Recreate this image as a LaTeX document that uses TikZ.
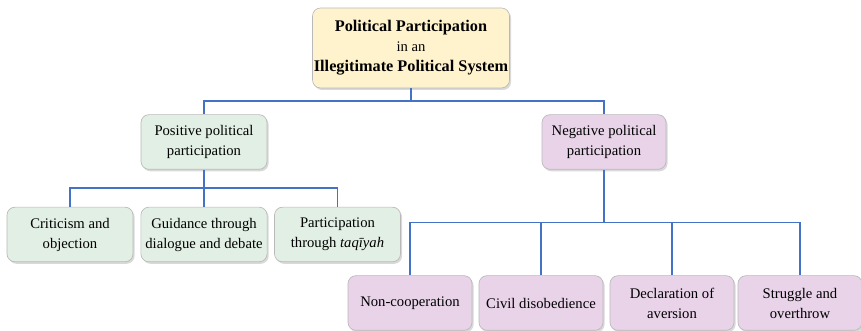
\documentclass[tikz,border=0pt]{standalone}
\usepackage{fontspec}
\setmainfont{Liberation Serif}
\newfontfamily\boxfont{Liberation Serif}
\usetikzlibrary{shadows}

\definecolor{topfill}{HTML}{FFF3CE}
\definecolor{posfill}{HTML}{E2EFE4}
\definecolor{negfill}{HTML}{E8D3E8}
\definecolor{linkblue}{HTML}{4472C4}

\newcommand{\bigbold}[1]{{\fontsize{12.2}{15.5}\selectfont\bfseries #1}}

\tikzset{
  box/.style={draw=gray!55, line width=0.5pt, rounded corners=6pt, align=center,
    font=\boxfont\fontsize{11}{15}\selectfont,
    drop shadow={opacity=0.3, shadow xshift=1.2pt, shadow yshift=-1.5pt}},
  topbox/.style={box, fill=topfill, inner xsep=1pt, minimum width=147pt, minimum height=60pt},
  posbox/.style={box, fill=posfill, minimum width=94.5pt, minimum height=41pt},
  negbox/.style={box, fill=negfill, minimum width=93pt, minimum height=41pt},
  link/.style={draw=linkblue, line width=1.3pt}
}

\begin{document}
\begin{tikzpicture}[x=0.75pt, y=-0.75pt]
      \useasboundingbox (0,0) rectangle (861,331);

      % Boxes (top)
      \node[topbox] (top) at (411,48)
      {\bigbold{Political Participation}\\in an\\\bigbold{Illegitimate Political System}};

      % Boxes (middle)
      \node[posbox] (pos) at (204,142) {Positive political\\participation};
      \node[negbox] (neg) at (604,142) {Negative political\\participation};

      % Boxes (positive)
      \node[posbox] (crit) at (70,234.5) {Criticism and\\objection};
      \node[posbox] (guid) at (204,234.5) {Guidance through\\dialogue and debate};
      \node[posbox] (taqi) at (337.5,234.5) {Participation\\through \textit{taqīyah}};

      % Boxes (negative)
      \node[negbox] (nonc) at (410,303) {Non-cooperation};
      \node[negbox] (civil) at (541,303) {Civil disobedience};
      \node[negbox] (decl) at (672,303) {Declaration of\\aversion};
      \node[negbox] (strug) at (800,303) {Struggle and\\overthrow};

      % Links
      \path (top.south) -- (pos.north) coordinate[midway] (jtop);
      \draw[link] (top.south) -- (top.south |- jtop) -| (pos.north);
      \draw[link] (top.south |- jtop) -| (neg.north);

      \path (pos.south) -- (crit.north) coordinate[midway] (jpos);
      \draw[link] (pos.south) -- (guid.north);
      \draw[link] (pos.south |- jpos) -| (crit.north);
      \draw[link] (pos.south |- jpos) -| (taqi.north);

      \path (neg.south) -- (nonc.north) coordinate[midway] (jneg);
      \draw[link] (neg.south) -- (neg.south |- jneg);
      \draw[link] (nonc.north) |- (strug.north |- jneg) -- (strug.north);
      \draw[link] (civil.north) -- (civil.north |- jneg);
      \draw[link] (decl.north) -- (decl.north |- jneg);
    \end{tikzpicture}
\end{document}
